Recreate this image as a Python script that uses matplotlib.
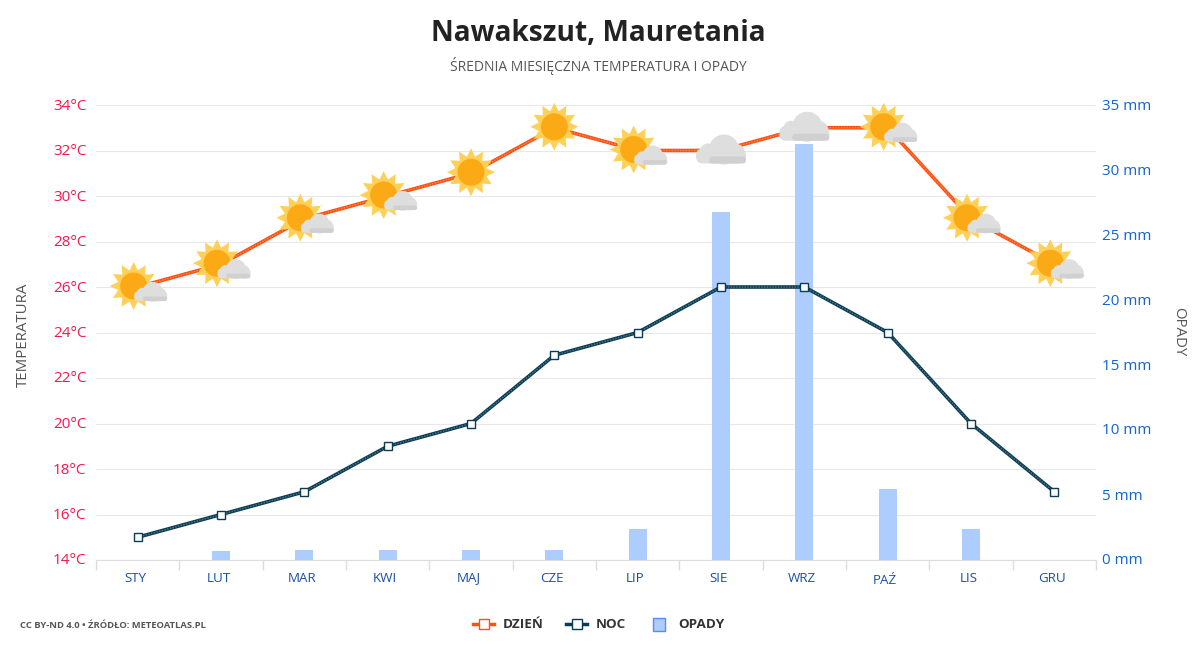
import numpy as np
import matplotlib
matplotlib.use('Agg')
import matplotlib.pyplot as plt
from matplotlib.lines import Line2D
from matplotlib.patches import Circle, Polygon, Rectangle, FancyBboxPatch
from matplotlib.transforms import Affine2D, ScaledTranslation

plt.rcParams['font.family'] = ['Open Sans', 'Noto Sans', 'DejaVu Sans']

months = ['STY', 'LUT', 'MAR', 'KWI', 'MAJ', 'CZE', 'LIP', 'SIE', 'WRZ', 'PAŹ', 'LIS', 'GRU']
day_temp = [26, 27, 29, 30, 31, 33, 32, 32, 33, 33, 29, 27]
night_temp = [15, 16, 17, 19, 20, 23, 24, 26, 26, 24, 20, 17]
rain = [0, 0.7, 0.8, 0.8, 0.8, 0.8, 2.4, 26.8, 32, 5.5, 2.4, 0]
icons = ['partly', 'partly', 'partly', 'partly', 'sun', 'sun', 'partly', 'cloud', 'cloud', 'partly', 'partly', 'partly']
temp_ticks = list(range(14, 36, 2))[:11]
rain_ticks = [0, 5, 10, 15, 20, 25, 30, 35]

W, H = 1200, 650
fig = plt.figure(figsize=(W / 100, H / 100), dpi=100, facecolor='white')
rect = [96 / W, (H - 560) / H, 1000 / W, 455 / H]
ax = fig.add_axes(rect)
ax2 = ax.twinx()
# third layer so grid < bars < lines
top = fig.add_axes(rect, frameon=False)
top.set_axis_off()

x = np.arange(12)

ax.set_zorder(1)
ax2.set_zorder(2)
top.set_zorder(3)
ax2.patch.set_visible(False)

ax2.bar(x, rain, width=0.216, color='#aecdff', zorder=2)
ax2.set_ylim(0, 35)
ax2.set_yticks(rain_ticks)
ax2.set_yticklabels(['%d mm' % v for v in rain_ticks], color='#1464d2', fontsize=11)
ax2.tick_params(axis='y', length=0, pad=4.5)

ax.set_xlim(-0.5, 11.5)
ax.set_ylim(14, 34)
top.set_xlim(-0.5, 11.5)
top.set_ylim(14, 34)
ax.set_yticks(temp_ticks)
ax.set_yticklabels(['%d°C' % v for v in temp_ticks], color='#f5174f', fontsize=11)
ax.tick_params(axis='y', length=0, pad=7)
ax.grid(axis='y', color='#e8e8e8', linewidth=0.8)
ax.set_axisbelow(True)

# nudge the value labels up one pixel
up = ScaledTranslation(0, 1 / 100, fig.dpi_scale_trans)
for lab in ax.get_yticklabels() + ax2.get_yticklabels():
    lab.set_transform(lab.get_transform() + up)

ax.set_xticks(list(x[:-1] + 0.5) + [-0.5, 11.5])
ax.set_xticklabels([])
ax.tick_params(axis='x', length=7.5, width=1, color='#dddddd')
for s in ['top', 'left', 'right']:
    ax.spines[s].set_visible(False)
    ax2.spines[s].set_visible(False)
ax.spines['bottom'].set_color('#dddddd')
ax2.spines['bottom'].set_visible(False)

for i, m in enumerate(months):
    extra = -2.5 if m == 'PAŹ' else 0
    ax.annotate(m, (i, 14), xytext=(-1.8, -15.5 + extra * 0.72), textcoords='offset points',
                ha='center', va='baseline', fontsize=9.6, color='#1a4fa8')

top.plot(x, day_temp, color='#ff5010', linewidth=2.6, zorder=3)
top.plot(x, day_temp, color='#f08a5c', linewidth=1, linestyle=(0, (1, 1)), zorder=3)
top.plot(x, night_temp, color='#0c3c52', linewidth=2.6, zorder=3)
top.plot(x, night_temp, color='#4f7a8c', linewidth=1, linestyle=(0, (1, 1)), zorder=3)
top.plot(x, night_temp, linestyle='none', marker='s', markersize=5.5, markerfacecolor='white',
         markeredgecolor='#0c3c52', markeredgewidth=1, zorder=4)


# icons are drawn in pixels around the data point
def draw_sun(px, py, scale=1.0):
    t = Affine2D().scale(scale).translate(px, py)
    angles = np.linspace(0, 2 * np.pi, 24, endpoint=False) + np.pi / 2
    radius = np.where(np.arange(24) % 2 == 0, 24, 16)
    pts = np.column_stack([radius * np.cos(angles), radius * np.sin(angles)])
    top.add_patch(Polygon(pts, closed=True, facecolor='#ffd057', edgecolor='none', transform=t, zorder=5, clip_on=False))
    top.add_patch(Circle((0, 0), 16, facecolor='#ffd057', edgecolor='none', transform=t, zorder=5, clip_on=False))
    top.add_patch(Circle((0, 0), 13.5, facecolor='#fbaa16', edgecolor='none', transform=t, zorder=5, clip_on=False))


def draw_cloud(px, py, scale=1.0):
    t = Affine2D().scale(scale).translate(px, py)
    light, dark = '#dedede', '#d0d0d0'
    for cx, cy, r in [(-13, -1, 8), (3, 1, 15), (14, -3, 10)]:
        top.add_patch(Circle((cx, cy), r, facecolor=light, edgecolor='none', transform=t, zorder=6, clip_on=False))
    top.add_patch(FancyBboxPatch((-25, -13), 50, 15, boxstyle='round,pad=0,rounding_size=7', facecolor=light,
                                 edgecolor='none', transform=t, zorder=6, clip_on=False))
    top.add_patch(FancyBboxPatch((-12, -13), 37, 7, boxstyle='round,pad=0,rounding_size=3.5', facecolor=dark,
                                 edgecolor='none', transform=t, zorder=6, clip_on=False))


for i, kind in enumerate(icons):
    px, py = top.transData.transform((x[i], day_temp[i]))
    if kind == 'cloud':
        draw_cloud(px, py, 1.0)
    elif kind == 'sun':
        draw_sun(px, py + 1)
    else:
        draw_sun(px - 4, py + 1)
        draw_cloud(px + 13, py - 5.5, 0.66)

# titles
fig.text(598.5 / W, 1 - 33.5 / H, 'Nawakszut, Mauretania', ha='center', va='center', fontsize=20.2,
         fontweight='bold', color='#222222')
fig.text(598.5 / W, 1 - 66 / H, 'ŚREDNIA MIESIĘCZNA TEMPERATURA I OPADY', ha='center', va='center',
         fontsize=10, color='#555555')
fig.text(23 / W, 1 - 335 / H, 'TEMPERATURA', rotation=90, ha='center', va='center', fontsize=10.8, color='#555555')
fig.text(1179 / W, 1 - 332 / H, 'OPADY', rotation=270, ha='center', va='center', fontsize=10.8, color='#555555')
fig.text(20 / W, 1 - 625 / H, 'CC BY-ND 4.0 • ŹRÓDŁO: METEOATLAS.PL', ha='left', va='center', fontsize=6.75,
         fontweight='bold', color='#555555')


# legend, placed by hand in figure pixels
def legend_line(x0, color):
    fy = 1 - 624 / H
    fig.add_artist(Line2D([x0 / W, (x0 + 21) / W], [fy, fy], transform=fig.transFigure, color=color, linewidth=2.5))
    fig.add_artist(Line2D([(x0 + 10.5) / W], [fy], transform=fig.transFigure, linestyle='none', marker='s',
                          markersize=7.5, markerfacecolor='white', markeredgecolor=color, markeredgewidth=1))


legend_line(473, '#ff5010')
legend_line(566, '#0c3c52')
fig.add_artist(Rectangle((652.5 / W, 1 - 630.5 / H), 12 / W, 13 / H, transform=fig.transFigure,
                         facecolor='#aecdff', edgecolor='#4f8ff7', linewidth=1))
for lx, label in [(503, 'DZIEŃ'), (596, 'NOC'), (678, 'OPADY')]:
    fig.text(lx / W, 1 - 624.5 / H, label, ha='left', va='center', fontsize=9.7, fontweight='bold',
             color='#333333')

fig.savefig('out.png', dpi=100)
